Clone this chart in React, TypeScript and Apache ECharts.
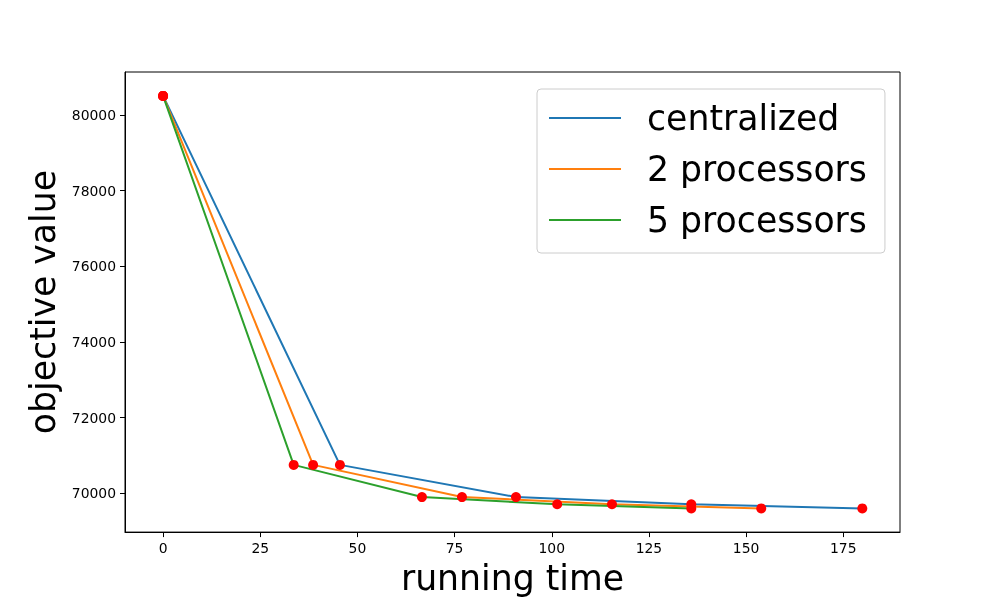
import React, { useEffect, useRef } from "react";
import * as echarts from "echarts";

const seriesNames = ["centralized", "2 processors", "5 processors"];
const timeCentralized = [0, 45.5, 90.8, 135.9, 179.9];
const time2Proc = [0, 38.6, 76.9, 115.5, 153.9];
const time5Proc = [0, 33.6, 66.6, 101.4, 135.9];
const objectiveValues = [80500, 70750, 69900, 69710, 69600];
const xTicks = [0, 25, 50, 75, 100, 125, 150, 175];
const yTicks = [70000, 72000, 74000, 76000, 78000, 80000];
const colors = ["#1f77b4", "#ff7f0e", "#2ca02c"];

const FONT = "DejaVu Sans";

export default function App() {
  const ref = useRef<HTMLDivElement>(null);
  useEffect(() => {
    if (!ref.current) return;
    const chart = echarts.init(ref.current, null, { renderer: "svg" });
    const times = [timeCentralized, time2Proc, time5Proc];
    const lineSeries = times.map((t, i) => ({
      name: seriesNames[i],
      type: "line",
      data: t.map((x, j) => [x, objectiveValues[j]]),
      symbol: "none",
      showSymbol: false,
      lineStyle: { color: colors[i], width: 2 },
      itemStyle: { color: colors[i] },
      z: 2,
    }));
    const scatterData: number[][] = [];
    times.forEach((t) => t.forEach((x, j) => scatterData.push([x, objectiveValues[j]])));
    chart.setOption({
      animation: false,
      textStyle: { fontFamily: FONT },
      grid: {
        left: 125,
        right: 100,
        top: 72,
        bottom: 66,
        show: true,
        borderColor: "#000",
        borderWidth: 1,
        backgroundColor: "transparent",
      },
      xAxis: {
        type: "value",
        min: -9.8,
        max: 189.6,
        name: "running time",
        nameLocation: "middle",
        nameGap: 27,
        nameTextStyle: { fontSize: 34.7, color: "#000", fontFamily: FONT, verticalAlign: "top" },
        axisLine: { show: true, onZero: false, lineStyle: { color: "#000", width: 1 } },
        axisTick: { show: true, length: 5, lineStyle: { color: "#000" }, customValues: xTicks },
        axisLabel: { color: "#000", fontSize: 13.9, fontFamily: FONT, margin: 9, customValues: xTicks },
        splitLine: { show: false },
      },
      yAxis: {
        type: "value",
        min: 68974,
        max: 81132,
        name: "objective value",
        nameLocation: "middle",
        nameGap: 62,
        nameTextStyle: { fontSize: 34.7, color: "#000", fontFamily: FONT },
        axisLine: { show: true, onZero: false, lineStyle: { color: "#000", width: 1 } },
        axisTick: { show: true, length: 5, lineStyle: { color: "#000" }, customValues: yTicks },
        axisLabel: {
          color: "#000",
          fontSize: 13.9,
          fontFamily: FONT,
          margin: 9,
          customValues: yTicks,
          formatter: (v: number) => String(v),
        },
        splitLine: { show: false },
      },
      legend: {
        orient: "vertical",
        left: 537,
        top: 89,
        data: seriesNames.map((n) => ({ name: n, icon: "rect" })),
        itemWidth: 72,
        itemHeight: 2,
        itemGap: 15,
        padding: [11, 18, 15, 12],
        borderColor: "#cccccc",
        borderWidth: 1,
        borderRadius: 4,
        backgroundColor: "rgba(255,255,255,0.8)",
        textStyle: {
          fontSize: 34.7,
          fontFamily: FONT,
          color: "#000",
          lineHeight: 36,
          padding: [0, 0, 0, 21],
        },
      },
      series: [
        ...lineSeries,
        {
          name: "points",
          type: "scatter",
          data: scatterData,
          symbol: "circle",
          symbolSize: 10,
          itemStyle: { color: "#ff0000", opacity: 1 },
          z: 3,
        },
      ],
    });
    return () => chart.dispose();
  }, []);
  return (
    <div
      ref={ref}
      style={{ position: "fixed", left: 0, top: 0, width: 1000, height: 600 }}
    />
  );
}
